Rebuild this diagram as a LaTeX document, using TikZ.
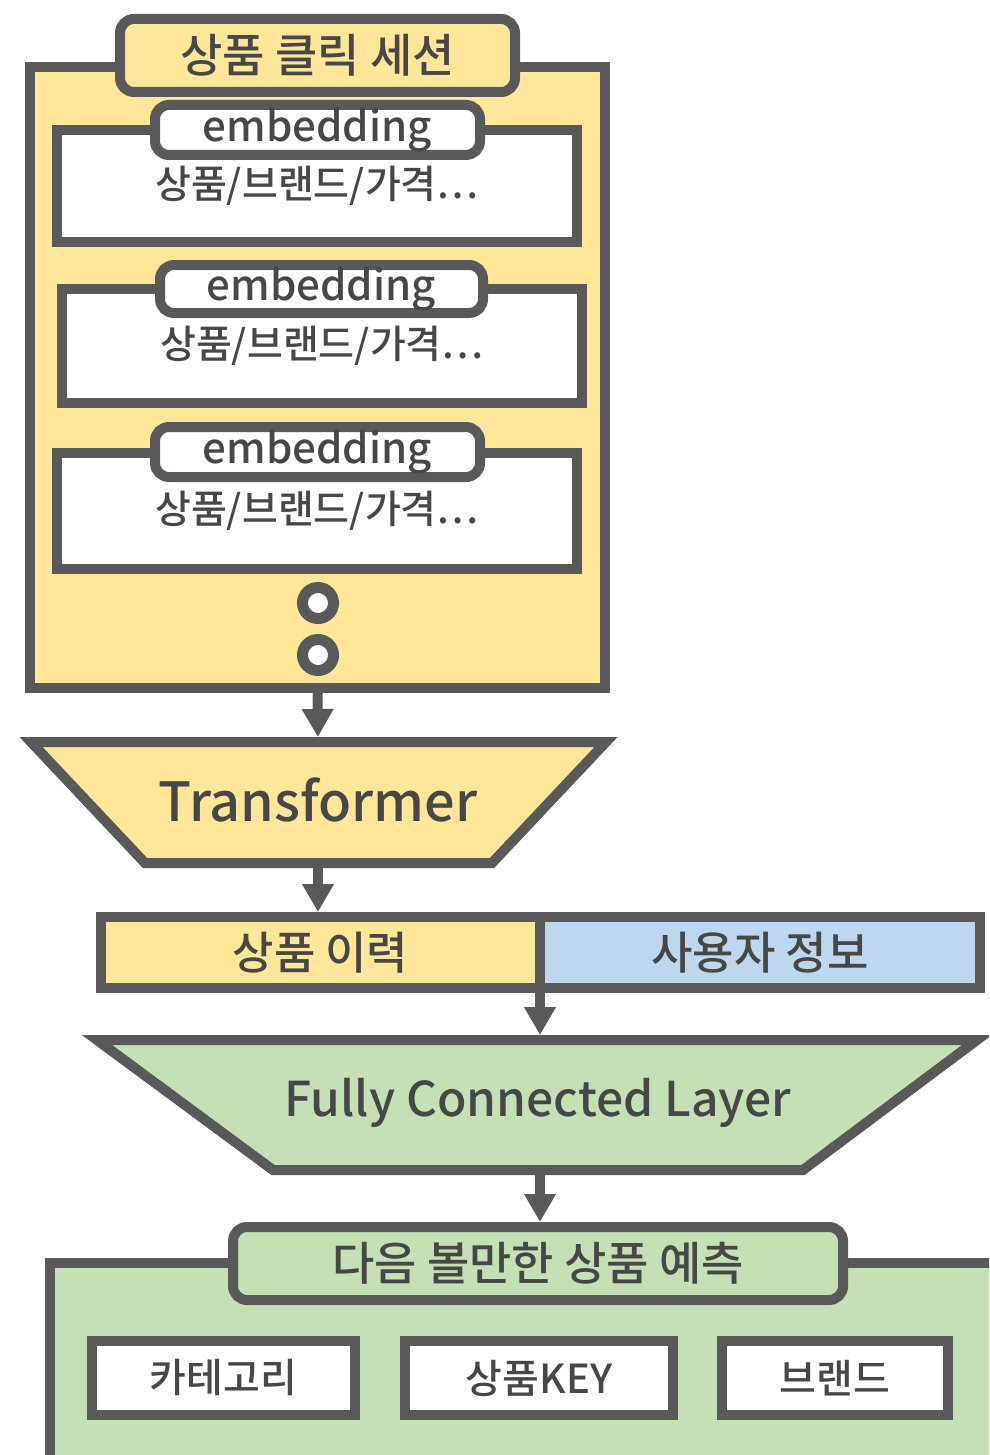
\documentclass[tikz,border=0pt]{standalone}
\usepackage{fontspec}
\setmainfont{Noto Sans CJK KR}[UprightFont={* Medium}]
\usetikzlibrary{arrows.meta,calc}
\definecolor{bd}{HTML}{595959}
\definecolor{yel}{HTML}{FFE699}
\definecolor{blu}{HTML}{BDD7EE}
\definecolor{grn}{HTML}{C5E0B4}
\definecolor{txt}{HTML}{474747}
\newcommand{\fs}[1]{\fontsize{#1}{#1}\selectfont}
\tikzset{
  box/.style={draw=bd, line width=10pt, rectangle, inner sep=0pt, text=txt},
  tab/.style={box, rounded corners=14pt},
  dot/.style={draw=bd, line width=11pt, circle, fill=white, minimum size=31pt, inner sep=0pt},
  arr/.style={draw=bd, line width=10pt, -{Triangle[width=30pt,length=28pt]}},
  lbl/.style={text=txt, inner sep=0pt},
}
\begin{document}
\begin{tikzpicture}[x=1pt,y=-1pt]
\useasboundingbox (0,0) rectangle (989,1455);
\path[clip] (0,0) rectangle (989,1455);
\fill[white] (0,0) rectangle (989,1455);

% session container
\node[box, fill=yel, minimum width=575pt, minimum height=621pt] (session) at (317.5,377.5) {};
\node[tab, fill=yel, minimum width=395pt, minimum height=73pt, font=\fs{46}] (stitle) at (317.5,55.5) {상품 클릭 세션};

% embedding rows
\node[box, fill=white, minimum width=520pt, minimum height=112pt, font=\fs{39}] (row1) at (317,186) {상품/브랜드/가격…};
\node[tab, fill=white, minimum width=325pt, minimum height=50pt, font=\fs{42}] (tab1) at (317.5,130) {embedding};
\node[box, fill=white, minimum width=520pt, minimum height=114pt, font=\fs{39}] (row2) at (322,346) {상품/브랜드/가격…};
\node[tab, fill=white, minimum width=323pt, minimum height=48pt, font=\fs{42}] (tab2) at (321.5,289) {embedding};
\node[box, fill=white, minimum width=520pt, minimum height=116pt, font=\fs{39}] (row3) at (317,511) {상품/브랜드/가격…};
\node[tab, fill=white, minimum width=325pt, minimum height=50pt, font=\fs{42}] (tab3) at (317.5,452) {embedding};

\node[dot] (d1) at (318,603) {};
\node[dot] (d2) at (318,655) {};

% transformer
\draw[draw=bd, line width=10pt, fill=yel] (31,742) -- (606,742) -- (492,863) -- (145,863) -- cycle;
\node[lbl, font=\fs{54}] (trans) at (318,800) {Transformer};
\coordinate (tTop) at (318,737);
\coordinate (tBot) at (318,868);
\draw[arr] (session.south) -- (tTop);

% split bar
\node[box, fill=yel, minimum width=439pt, minimum height=71pt, font=\fs{45}] (hist) at (320.5,952.5) {상품 이력};
\node[box, fill=blu, minimum width=440pt, minimum height=71pt, font=\fs{45}] (user) at (760,952.5) {사용자 정보};
\draw[arr] (tBot) -- (hist.north -| tBot);
\coordinate (join) at ($(hist.south east)!0.5!(user.south west)$);

% fully connected
\draw[draw=bd, line width=10pt, fill=grn] (97,1040) -- (977,1040) -- (803,1170) -- (273,1170) -- cycle;
\node[lbl, font=\fs{48}] (fc) at (538,1103) {Fully Connected Layer};
\coordinate (fTop) at (540,1035);
\coordinate (fBot) at (540,1175);
\draw[arr] (join) -- (fTop);

% prediction
\node[box, fill=grn, anchor=north west, minimum width=1050pt, minimum height=337pt] (pred) at (45,1258) {};
\node[tab, fill=grn, minimum width=610pt, minimum height=73pt, font=\fs{46}] (ptitle) at (538,1263.5) {다음 볼만한 상품 예측};
\draw[arr] (fBot) -- (ptitle.north -| fBot);

\node[box, fill=white, minimum width=263pt, minimum height=74pt, font=\fs{40}] (cat) at (223.5,1378) {카테고리};
\node[box, fill=white, minimum width=268pt, minimum height=74pt, font=\fs{40}] (key) at (539,1378) {상품KEY};
\node[box, fill=white, minimum width=226pt, minimum height=74pt, font=\fs{40}] (brand) at (835,1378) {브랜드};
\end{tikzpicture}
\end{document}
